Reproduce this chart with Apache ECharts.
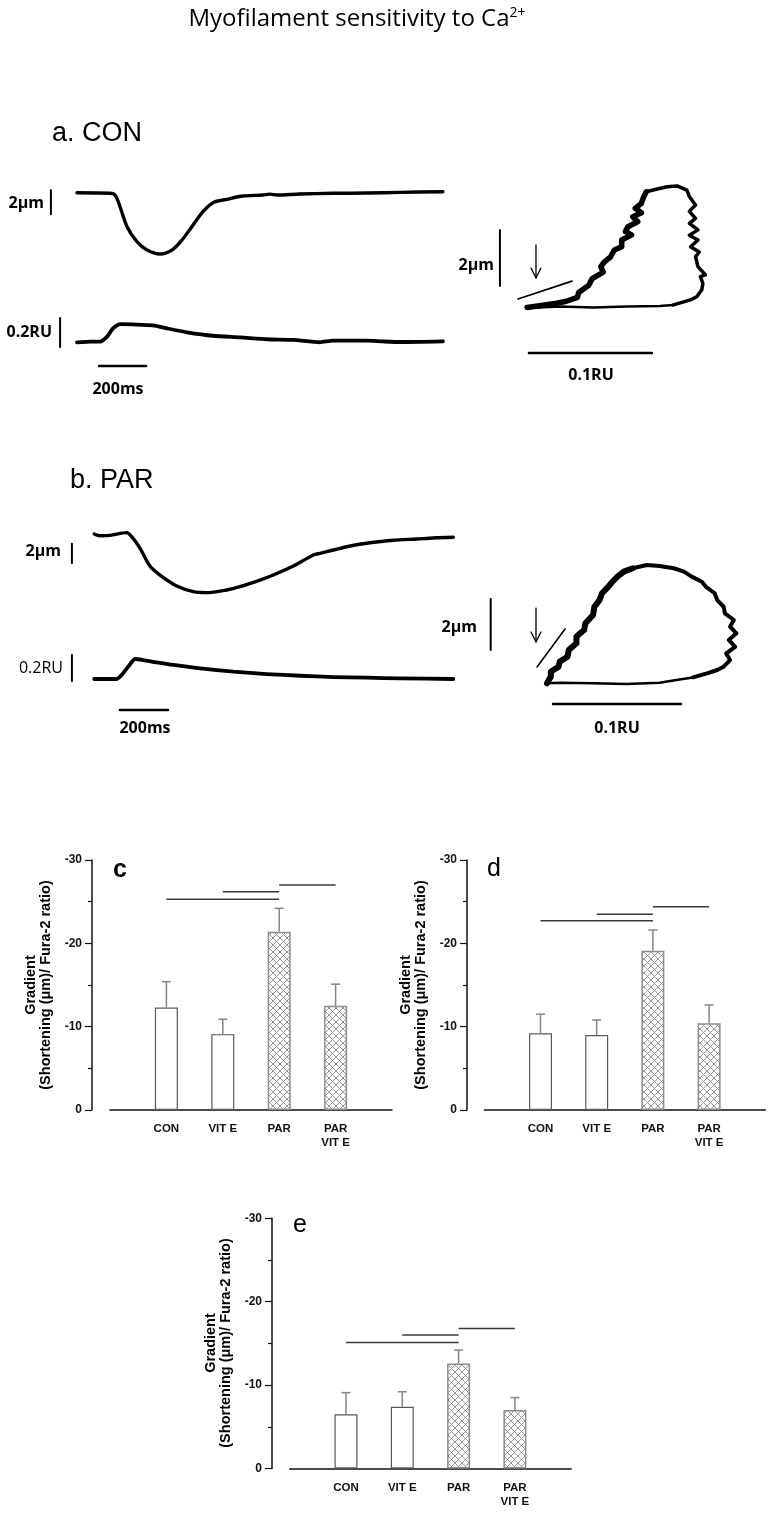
<!DOCTYPE html>
<html><head><meta charset="utf-8">
<script src="https://cdn.jsdelivr.net/npm/echarts@6/dist/echarts.min.js"></script>
<style>html,body{margin:0;padding:0;background:#fff}#c{width:772px;height:1514px}</style>
</head><body><div id="c"></div>
<script>
// ================= DATA =================
// Panel a (CON) traces: [time ms, value]; shortening in µm (relative to rest), fura-2 in RU (relative)
const conShortening = [[0,0],[140,-0.05],[162,-0.19],[183,-1.17],[213,-2.83],[255,-4.08],[298,-4.78],[353,-5.11],[404,-4.78],[447,-3.94],[494,-2.69],[536,-1.58],[579,-0.83],[638,-0.55],[706,-0.28],[791,-0.19],[820,-0.12],[851,-0.19],[949,-0.11],[1089,-0.05],[1234,-0.03],[1374,0.03],[1557,0.08]];
const conFura = [[0,-0.002],[60,0.003],[98,0.002],[128,0.037],[153,0.094],[183,0.123],[238,0.121],[323,0.115],[383,0.094],[468,0.067],[579,0.043],[694,0.032],[809,0.019],[919,0.014],[1034,-0.002],[1089,0.009],[1234,0.009],[1300,0.004],[1374,0.0],[1557,0.005]];
// Panel b (PAR) traces
const parShortening = [[1,0],[25,-0.18],[67,-0.14],[136,0.14],[157,-0.28],[192,-1.48],[233,-3.32],[275,-4.25],[345,-5.39],[414,-5.98],[469,-6.08],[553,-5.8],[608,-5.46],[692,-4.77],[747,-4.25],[831,-3.32],[914,-2.18],[942,-2.0],[997,-1.66],[1067,-1.24],[1136,-0.96],[1247,-0.65],[1344,-0.52],[1414,-0.41],[1497,-0.34]];
const parFura = [[1,0],[95,0],[115,0.031],[143,0.095],[171,0.154],[205,0.146],[261,0.128],[331,0.108],[442,0.082],[581,0.056],[720,0.038],[858,0.025],[997,0.015],[1136,0.01],[1275,0.005],[1497,0]];
// Scale bars of the traces (2 µm, 0.2 RU, 200 ms)
const conBarUm = [[-111,0.2],[-111,-1.8]];
const conBarRU = [[-72,0.166],[-72,-0.034]];
const conBarMs = [[94,-0.166],[294,-0.166]];
const parBarUm = [[-92,-1.0],[-92,-3.0]];
const parBarRU = [[-92,0.185],[-92,-0.015]];
const parBarMs = [[108,-0.238],[308,-0.238]];

// Phase-plane loops: [fura-2 ratio RU, shortening µm]
const loopA_bottom = [[0,0],[0.027,0.05],[0.054,0.02],[0.081,0.05],[0.108,0.07],[0.119,0.11]];
const loopA_right = [[0.119,0.11],[0.133,0.29],[0.138,0.40],[0.142,0.64],[0.143,0.88],[0.141,1.12],[0.145,1.18],[0.139,1.48],[0.137,1.83],[0.140,2.0],[0.133,2.19],[0.139,2.43],[0.132,2.60],[0.139,2.79],[0.132,3.02],[0.137,3.20],[0.132,3.45],[0.137,3.68],[0.132,3.98],[0.130,4.21],[0.122,4.36],[0.114,4.33],[0.105,4.24],[0.097,4.15]];
const loopA_left = [[0.097,4.15],[0.095,3.98],[0.093,3.74],[0.088,3.56],[0.093,3.40],[0.086,3.26],[0.090,3.08],[0.082,2.90],[0.080,2.73],[0.085,2.61],[0.077,2.43],[0.077,2.19],[0.071,2.07],[0.068,1.83],[0.063,1.65],[0.060,1.48],[0.062,1.28],[0.053,1.05],[0.050,0.80],[0.042,0.55],[0.041,0.38],[0.032,0.24],[0.024,0.17],[0.013,0.10],[0,0.02]];
const loopB_bottom = [[0,-0.01],[0.010,0.01],[0.036,-0.01],[0.062,-0.04],[0.088,0.01],[0.101,0.12],[0.114,0.22]];
const loopB_right = [[0.114,0.22],[0.125,0.38],[0.133,0.51],[0.138,0.64],[0.143,0.90],[0.140,1.16],[0.147,1.42],[0.142,1.69],[0.148,1.95],[0.143,2.21],[0.146,2.47],[0.139,2.73],[0.138,2.99],[0.133,3.25],[0.131,3.52],[0.124,3.78],[0.121,3.97],[0.113,4.17],[0.107,4.37],[0.099,4.50],[0.088,4.59],[0.078,4.63],[0.067,4.50]];
const loopB_left = [[0.067,4.50],[0.060,4.37],[0.055,4.17],[0.051,3.97],[0.048,3.78],[0.043,3.52],[0.041,3.25],[0.037,2.99],[0.036,2.67],[0.030,2.34],[0.029,2.08],[0.023,1.82],[0.023,1.56],[0.017,1.29],[0.016,1.03],[0.010,0.84],[0.009,0.64],[0.003,0.44],[0.003,0.25],[0,-0.01]];
// Loop annotations
const loopA_barUm = [[-0.022,0.79],[-0.022,2.79]];
const loopA_barRU = [[0.0016,-1.61],[0.1016,-1.61]];
const loopA_slope = [[-0.0073,0.32],[0.0366,0.96]];
const loopA_arrow = [[0.0073,2.25],[0.0073,1.07]];
const loopB_barUm = [[-0.044,1.29],[-0.044,3.29]];
const loopB_barRU = [[0.0047,-0.82],[0.1047,-0.82]];
const loopB_slope = [[-0.0078,0.63],[0.0141,2.12]];
const loopB_arrow = [[-0.0086,2.94],[-0.0086,1.61]];

// Bar charts: gradient (shortening µm / fura-2 ratio)
const categories = ['CON','VIT E','PAR','PAR\nVIT E'];
const hatched = [false,false,true,true];
const cMean = [-12.3,-9.1,-21.4,-12.5];
const cErrTop = [-15.4,-10.9,-24.2,-15.1];
const cSig = [[0,2,-25.3],[1,2,-26.2],[2,3,-27.0]];
const dMean = [-9.2,-9.0,-19.1,-10.4];
const dErrTop = [-11.5,-10.8,-21.6,-12.6];
const dSig = [[0,2,-22.7],[1,2,-23.5],[2,3,-24.4]];
const eMean = [-6.5,-7.4,-12.6,-7.0];
const eErrTop = [-9.1,-9.2,-14.2,-8.5];
const eSig = [[0,2,-15.1],[1,2,-16.0],[2,3,-16.8]];
const yAxisTitle = 'Gradient\n(Shortening (μm)/ Fura-2 ratio)';

// ================= CHART =================
const chart = echarts.init(document.getElementById('c'), null, {renderer:'canvas'});
const grids = [], xAxes = [], yAxes = [], series = [];
function traceGrid(box, xr, yr){
  const gi = grids.length;
  grids.push({left:box[0], top:box[1], width:box[2], height:box[3]});
  xAxes.push({type:'value', gridIndex:gi, min:xr[0], max:xr[1], show:false});
  yAxes.push({type:'value', gridIndex:gi, min:yr[0], max:yr[1], show:false});
  return gi;
}
function line(gi, data, w, smooth){
  series.push({type:'line', xAxisIndex:gi, yAxisIndex:gi, data:data, symbol:'none', smooth:smooth||false,
    lineStyle:{color:'#000', width:w, cap:'round', join:'round'}, clip:false, silent:true, animation:false});
}
function arrow(gi, shaft, hw, hh){
  line(gi, shaft, 1.3);
  const tip = shaft[1];
  line(gi, [[tip[0]-hw, tip[1]+hh],[tip[0],tip[1]],[tip[0]+hw, tip[1]+hh]], 1.3);
}
// traces
const gSA = traceGrid([39.4,180.7,413.6,84],[-160,1600],[-6,1]);
line(gSA, conShortening, 3.4, 0.3); line(gSA, conBarUm, 2);
const gFA = traceGrid([39.4,313,413.6,65.25],[-160,1600],[-0.25,0.2]);
line(gFA, conFura, 3.8, 0.2); line(gFA, conBarRU, 2); line(gFA, conBarMs, 2.5);
const gSB = traceGrid([55.6,524.35,422.4,77.2],[-160,1600],[-7,1]);
line(gSB, parShortening, 3.4, 0.3); line(gSB, parBarUm, 2);
const gFB = traceGrid([55.6,653,422.4,65],[-160,1600],[-0.3,0.2]);
line(gFB, parFura, 3.8, 0.2); line(gFB, parBarRU, 2); line(gFB, parBarMs, 2.5);
// loops
const gLA = traceGrid([453.2,168,270.6,210],[-0.06,0.16],[-2.5,5]);
line(gLA, loopA_bottom, 2.5); line(gLA, loopA_right, 3.5); line(gLA, loopA_left, 5.5);
line(gLA, loopA_barUm, 2); line(gLA, loopA_barRU, 2.5); line(gLA, loopA_slope, 1.6);
arrow(gLA, loopA_arrow, 0.004, 0.36);
const gLB = traceGrid([457.4,542.75,307.2,191.25],[-0.07,0.17],[-2,5.5]);
line(gLB, loopB_bottom, 2.5); line(gLB, loopB_right, 4); line(gLB, loopB_left, 6);
line(gLB, loopB_barUm, 2); line(gLB, loopB_barRU, 2.5); line(gLB, loopB_slope, 1.6);
arrow(gLB, loopB_arrow, 0.0039, 0.39);

// hatch pattern
function hatchCanvas(){
  const s=7, cv=document.createElement('canvas'); cv.width=s; cv.height=s;
  const g=cv.getContext('2d'); g.fillStyle='#fff'; g.fillRect(0,0,s,s);
  g.strokeStyle='#8a8a8a'; g.lineWidth=0.9; g.beginPath();
  g.moveTo(0,0); g.lineTo(s,s); g.moveTo(s,0); g.lineTo(0,s); g.stroke();
  return cv;
}
const hatchFill = {image: hatchCanvas(), repeat:'repeat'};
const AX = '"Liberation Sans", Arial, sans-serif';
function barChart(box, yOffset, mean, errTop, sig){
  const gi = grids.length;
  grids.push({left:box[0], top:box[1], width:box[2], height:box[3]});
  xAxes.push({type:'category', gridIndex:gi, boundaryGap:false, data:[''].concat(categories,['']),
    axisLine:{lineStyle:{color:'#111', width:1.5}}, axisTick:{show:false}, splitLine:{show:false},
    axisLabel:{interval:0, margin:12, color:'#111', fontFamily:AX, fontWeight:'bold', fontSize:11.5, lineHeight:14}});
  yAxes.push({type:'value', gridIndex:gi, min:-30, max:0, interval:10, inverse:true, offset:yOffset,
    axisLine:{show:true, lineStyle:{color:'#111', width:1.5}},
    axisTick:{show:true, length:7, lineStyle:{color:'#111', width:1.2}},
    minorTick:{show:true, splitNumber:2, length:4, lineStyle:{color:'#111', width:1.2}},
    splitLine:{show:false},
    axisLabel:{margin:10, color:'#111', fontFamily:AX, fontWeight:'bold', fontSize:12}});
  series.push({type:'bar', xAxisIndex:gi, yAxisIndex:gi, barWidth:23, animation:false, silent:true,
    data: mean.map((v,i)=>({value:[i+1, v], itemStyle: hatched[i]
      ? {color:hatchFill, borderColor:'#8c8c8c', borderWidth:1.5}
      : {color:'#fff', borderColor:'#5a5a5a', borderWidth:1.2}}))});
  series.push({type:'custom', xAxisIndex:gi, yAxisIndex:gi, animation:false, silent:true, z:3,
    data: mean.map((v,i)=>[i+1, v, errTop[i]]),
    renderItem:(p, api)=>{
      const a = api.coord([api.value(0), api.value(1)]);
      const b = api.coord([api.value(0), api.value(2)]);
      const st = {stroke:'#858585', lineWidth:1.5};
      return {type:'group', children:[
        {type:'line', shape:{x1:a[0],y1:a[1],x2:b[0],y2:b[1]}, style:st},
        {type:'line', shape:{x1:b[0]-4.5,y1:b[1],x2:b[0]+4.5,y2:b[1]}, style:st}]};
    }});
  series.push({type:'custom', xAxisIndex:gi, yAxisIndex:gi, animation:false, silent:true, z:3,
    data: sig.map(s=>[s[0]+1, s[1]+1, s[2]]),
    renderItem:(p, api)=>{
      const a = api.coord([api.value(0), api.value(2)]);
      const b = api.coord([api.value(1), api.value(2)]);
      return {type:'line', shape:{x1:a[0],y1:a[1],x2:b[0],y2:b[1]}, style:{stroke:'#3a3a3a', lineWidth:1.5}};
    }});
}
barChart([110,860,282,250], 18, cMean, cErrTop, cSig);
barChart([484.3,860,281,250], 17.3, dMean, dErrTop, dSig);
barChart([289.7,1218.3,281.5,250.2], 17.7, eMean, eErrTop, eSig);

// texts
const OS = '"Open Sans", sans-serif';
function txt(t, x, y, o){
  o = o || {};
  return {type:'text', x:x, y:y, rotation:o.rot||0, z:10, silent:true,
    style:{text:t, fill:'#000', fontFamily:o.ff||OS, fontSize:o.fs||16, fontWeight:o.fw||'bold',
      align:o.al||'center', verticalAlign:'middle', lineHeight:o.lh, rich:o.rich}};
}
const graphics = [
  {type:'text', x:357, y:19, z:10, silent:true, style:{text:'Myofilament sensitivity to Ca{sup|2+}',
    fill:'#000', fontFamily:OS, fontSize:24, align:'center', verticalAlign:'middle',
    rich:{sup:{fontSize:14, fontFamily:OS, fill:'#000', verticalAlign:'top', padding:[0,0,11,0]}}}},
  txt('a. CON', 52, 134, {ff:AX, fs:27, fw:'normal', al:'left'}),
  txt('2μm', 44, 203, {al:'right'}),
  txt('0.2RU', 52, 332, {al:'right'}),
  txt('200ms', 118, 389),
  txt('2μm', 494, 265, {al:'right'}),
  txt('0.1RU', 591, 375),
  txt('b. PAR', 70, 481, {ff:AX, fs:27, fw:'normal', al:'left'}),
  txt('2μm', 61, 551, {al:'right'}),
  txt('0.2RU', 63, 668, {al:'right', fw:'normal'}),
  txt('200ms', 145, 728),
  txt('2μm', 477, 627, {al:'right'}),
  txt('0.1RU', 617, 728),
  txt('c', 120, 870, {ff:AX, fs:25, fw:'bold'}),
  txt('d', 494, 869, {ff:AX, fs:25, fw:'normal'}),
  txt('e', 300, 1225, {ff:AX, fs:25, fw:'normal'}),
  txt(yAxisTitle, 38, 985, {ff:AX, fs:14.5, lh:15, rot:Math.PI/2}),
  txt(yAxisTitle, 413, 985, {ff:AX, fs:14.5, lh:15, rot:Math.PI/2}),
  txt(yAxisTitle, 218, 1343, {ff:AX, fs:14.5, lh:15, rot:Math.PI/2})
];

chart.setOption({backgroundColor:'#fff', animation:false, grid:grids, xAxis:xAxes, yAxis:yAxes, series:series, graphic:graphics});
</script></body></html>
